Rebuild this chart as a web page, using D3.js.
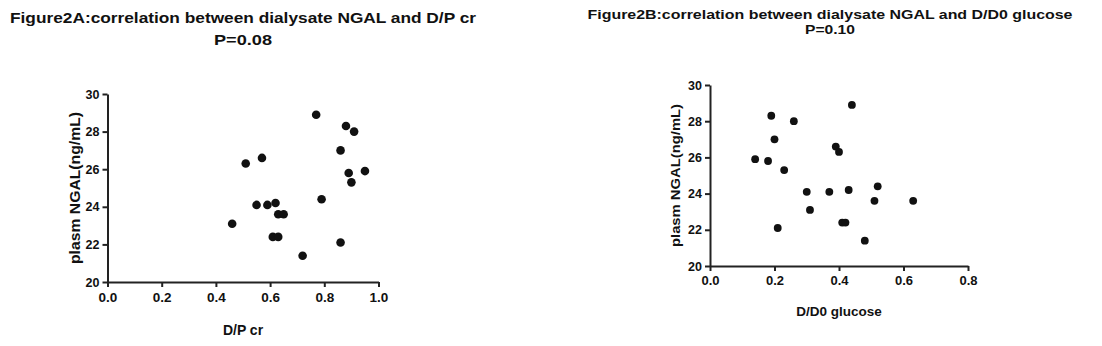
<!DOCTYPE html>
<html>
<head>
<meta charset="utf-8">
<script src="https://cdn.jsdelivr.net/npm/d3@7"></script>
<style>
  body { margin: 0; background: #fff; }
  svg { display: block; }
  text { font-family: "Liberation Sans", Arial, sans-serif; font-weight: bold; fill: #111; }
  .axis path, .axis line { stroke: #222; stroke-width: 2; }
  .axis text { fill: #111; }
</style>
</head>
<body>
<svg id="chart" width="1102" height="346"></svg>
<script>
// plasma NGAL (ng/mL) for each patient
var ngal_a = [23.1, 26.3, 26.6, 24.1, 24.1, 24.2, 23.6, 23.6, 22.4, 22.4,
              21.4, 24.4, 22.1, 28.9, 28.3, 28.0, 27.0, 25.8, 25.9, 25.3];
var dp_cr  = [0.46, 0.51, 0.57, 0.55, 0.59, 0.62, 0.63, 0.65, 0.61, 0.63,
              0.72, 0.79, 0.86, 0.77, 0.88, 0.91, 0.86, 0.89, 0.95, 0.90];

var ngal_b = [28.9, 28.3, 28.0, 27.0, 26.6, 26.3, 25.9, 25.8, 25.3, 24.1,
              24.1, 24.2, 23.1, 22.1, 22.4, 22.4, 21.4, 23.6, 23.6, 24.4];
var dd0_glu = [0.44, 0.19, 0.26, 0.20, 0.39, 0.40, 0.14, 0.18, 0.23, 0.30,
               0.37, 0.43, 0.31, 0.21, 0.41, 0.42, 0.48, 0.51, 0.63, 0.52];

var y_ticks = [20, 22, 24, 26, 28, 30];
var xa_ticks = [0, 0.2, 0.4, 0.6, 0.8, 1.0];
var xb_ticks = [0, 0.2, 0.4, 0.6, 0.8];

var svg = d3.select("#chart");

function drawPanel(opt) {
  var g = svg.append("g");

  var x = d3.scaleLinear().domain(opt.xDomain).range([opt.left, opt.right]);
  var y = d3.scaleLinear().domain([20, 30]).range([opt.bottom, opt.top]);

  // titles (the source image is stretched sideways, so fit the widths)
  g.append("text").attr("x", opt.titleX).attr("y", opt.titleY1)
    .attr("text-anchor", "middle").style("font-size", opt.titleSize + "px")
    .attr("textLength", opt.titleW).attr("lengthAdjust", "spacingAndGlyphs")
    .text(opt.title);
  g.append("text").attr("x", opt.titleX).attr("y", opt.titleY2)
    .attr("text-anchor", "middle").style("font-size", opt.titleSize + "px")
    .attr("textLength", opt.pW).attr("lengthAdjust", "spacingAndGlyphs")
    .text(opt.pval);

  var xAxis = g.append("g").attr("class", "axis")
    .attr("transform", "translate(0," + opt.bottom + ")")
    .call(d3.axisBottom(x).tickValues(opt.xTicks).tickSize(5).tickSizeOuter(0)
      .tickPadding(5).tickFormat(d3.format(".1f")));
  xAxis.selectAll("text").style("font-size", opt.xTickSize + "px");

  var yAxis = g.append("g").attr("class", "axis")
    .attr("transform", "translate(" + opt.left + ",0)")
    .call(d3.axisLeft(y).tickValues(y_ticks).tickSize(5).tickSizeOuter(0).tickPadding(3));
  yAxis.selectAll("text").style("font-size", opt.yTickSize + "px");

  // axis labels
  g.append("text").attr("x", (opt.left + opt.right) / 2).attr("y", opt.xLabelY)
    .attr("text-anchor", "middle").style("font-size", opt.labelSize + "px")
    .text(opt.xLabel);
  g.append("text")
    .attr("transform", "translate(" + opt.yLabelX + "," + (opt.top + opt.bottom) / 2 + ") rotate(-90)")
    .attr("text-anchor", "middle").style("font-size", opt.labelSize + "px")
    .attr("textLength", opt.yLabelW).attr("lengthAdjust", "spacingAndGlyphs")
    .text("plasm NGAL(ng/mL)");

  g.selectAll("circle")
    .data(opt.xs)
    .enter()
    .append("circle")
    .attr("cx", function(d) { return x(d); })
    .attr("cy", function(d, i) { return y(opt.ys[i]); })
    .attr("r", opt.r)
    .attr("fill", "#111");
}

drawPanel({
  title: "Figure2A:correlation between dialysate NGAL and D/P cr", pval: "P=0.08",
  titleX: 243, titleY1: 23, titleY2: 45, titleSize: 15, titleW: 466, pW: 58,
  xs: dp_cr, ys: ngal_a, xDomain: [0, 1], xTicks: xa_ticks,
  left: 107.5, right: 378.5, top: 94, bottom: 282,
  xLabel: "D/P cr", xLabelY: 335, yLabelX: 80, yLabelW: 152,
  xTickSize: 13.5, yTickSize: 12.5, labelSize: 14, r: 4.3
});

drawPanel({
  title: "Figure2B:correlation between dialysate NGAL and D/D0 glucose", pval: "P=0.10",
  titleX: 830, titleY1: 19, titleY2: 34, titleSize: 13.5, titleW: 485, pW: 50,
  xs: dd0_glu, ys: ngal_b, xDomain: [0, 0.8], xTicks: xb_ticks,
  left: 710, right: 968, top: 85, bottom: 266,
  xLabel: "D/D0 glucose", xLabelY: 316, yLabelX: 680, yLabelW: 143,
  xTickSize: 13, yTickSize: 12.5, labelSize: 13.5, r: 3.9
});
</script>
</body>
</html>
